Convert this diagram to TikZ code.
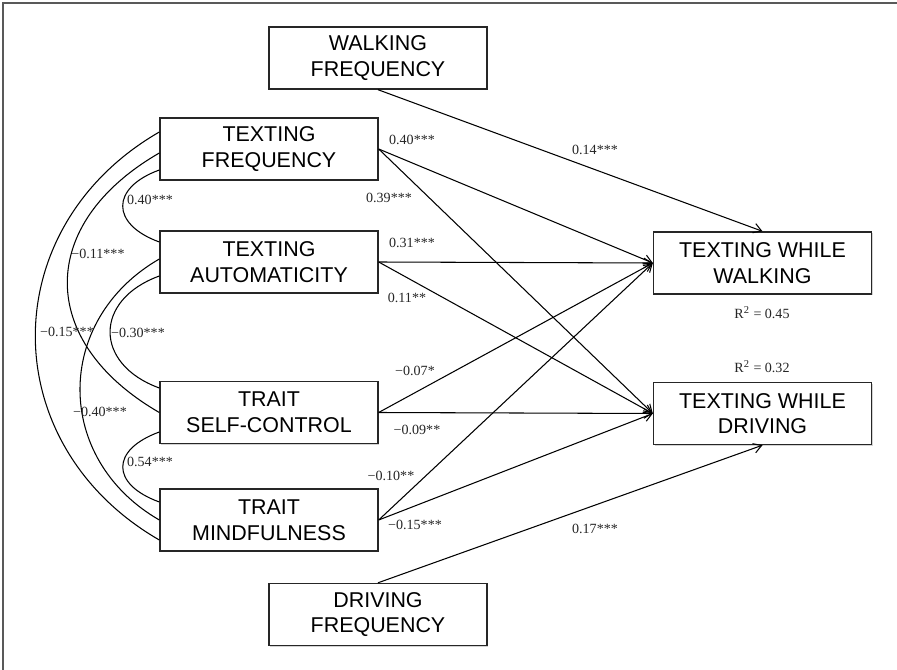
\documentclass[tikz,border=0pt]{standalone}
\usepackage{fontspec}
\setmainfont{Liberation Serif}
\setsansfont{Liberation Sans}
\usetikzlibrary{arrows.meta,calc,shadows}

\begin{document}
\begin{tikzpicture}[x = 0.02cm, y = 0.02cm,
    var/.style = {draw = black!85, line width = 0.8pt, fill = white,
      minimum width = 4.36cm, minimum height = 1.24cm, align = center,
      font = \sffamily\fontsize{12.2}{14.6}\selectfont,
      drop shadow = {shadow xshift = 0.6pt, shadow yshift = -0.6pt, opacity = 0.35}},
    coef/.style = {font = \fontsize{8}{9}\selectfont, text = black!85, inner sep = 0pt},
    effect/.style = {line width = 0.6pt, -{Straight Barb[length = 4.5pt, width = 5.5pt]}},
    corr/.style = {line width = 0.6pt}]
  \useasboundingbox (0,0) rectangle (897,670);
  % frame
  \draw [black!65, line width = 1.2pt] (3,0) -- (3,667) -- (897,667);
  % variables
  \node [var] (wf) at (378, 612) {WALKING\\FREQUENCY};
  \node [var] (tf) at (269, 521) {TEXTING\\FREQUENCY};
  \node [var] (ta) at (269, 408) {TEXTING\\AUTOMATICITY};
  \node [var] (tsc) at (269, 257.5) {TRAIT\\SELF-CONTROL};
  \node [var] (tm) at (269, 150) {TRAIT\\MINDFULNESS};
  \node [var] (tww) at (762.5, 407) {TEXTING WHILE\\WALKING};
  \node [var] (twd) at (762.5, 256.5) {TEXTING WHILE\\DRIVING};
  \node [var] (df) at (378, 55.5) {DRIVING\\FREQUENCY};
  % paths
  \foreach \src/\dst in {tf/tww, tf/twd, ta/tww, ta/twd, tsc/tww, tsc/twd, tm/tww, tm/twd}
    \draw [effect] (\src.east) -- (\dst.west);
  \draw [effect] (wf.south) -- (tww.north);
  \draw [effect] (df.north) -- (twd.south);
  % correlations
  \draw [corr] ($(tf.west)+(0,-21)$) to [out = 200, in = 160, looseness = 1.85] ($(ta.west)+(0,20)$);
  \draw [corr] ($(tf.west)+(0,-4)$) to [out = 210, in = 150, looseness = 1.4] ($(tsc.west)+(0,0)$);
  \draw [corr] ($(tf.west)+(0,17)$) to [out = 210, in = 150, looseness = 1.2] ($(tm.west)+(0,-20)$);
  \draw [corr] ($(ta.west)+(0,3)$) to [out = 210, in = 150, looseness = 1.2] ($(tm.west)+(0,0)$);
  \draw [corr] ($(ta.west)+(0,-14)$) to [out = 200, in = 160, looseness = 1.6] ($(tsc.west)+(0,24.5)$);
  \draw [corr] ($(tsc.west)+(0,-19.5)$) to [out = 200, in = 160, looseness = 1.9] ($(tm.west)+(0,18)$);
  % coefficients
  \node [coef] (c1) at (412, 530) {0.40***};
  \node [coef] (c2) at (595, 520) {0.14***};
  \node [coef] (c3) at (389, 472) {0.39***};
  \node [coef] (c4) at (412, 427) {0.31***};
  \node [coef] (c5) at (407, 372) {0.11**};
  \node [coef] (c6) at (415, 299) {−0.07*};
  \node [coef] (c7) at (417, 240) {−0.09**};
  \node [coef] (c8) at (391, 194) {−0.10**};
  \node [coef] (c9) at (415, 145) {−0.15***};
  \node [coef] (c10) at (595, 141) {0.17***};
  \node [coef] (c11) at (150, 470) {0.40***};
  \node [coef] (c12) at (98, 416) {−0.11***};
  \node [coef] (c13) at (67, 338) {−0.15***};
  \node [coef] (c14) at (138, 337) {−0.30***};
  \node [coef] (c15) at (100, 258) {−0.40***};
  \node [coef] (c16) at (150, 208) {0.54***};
  \node [coef] (r1) at (762, 357) {R\textsuperscript{2} = 0.45};
  \node [coef] (r2) at (762, 303) {R\textsuperscript{2} = 0.32};
\end{tikzpicture}
\end{document}
